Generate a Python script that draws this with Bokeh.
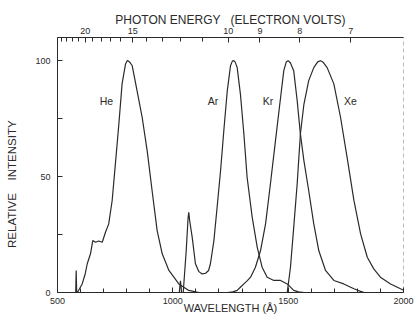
from bokeh.plotting import figure
from bokeh.models import (Range1d, LinearAxis, FixedTicker, CustomJSTickFormatter, Label)
from bokeh.embed import file_html
from bokeh.resources import INLINE

# ---- data ----
he_wl = [575, 579, 581, 583, 586, 595, 607, 620, 629, 643, 653, 665, 679, 694, 708, 722,
         737, 751, 766, 780, 795, 802, 808, 816, 824, 845, 867, 889, 910, 932, 954, 983,
         1026, 1069, 1113, 1130]
he_int = [0, 0, 9.5, 0.5, 0, 1.5, 3.7, 8, 12.4, 16.7, 22.4, 21.7, 22.2, 21.7, 26, 29.6,
          39.7, 55.5, 72.7, 90, 98.6, 100, 99.8, 99, 97.8, 87, 75.6, 61, 44, 26.7, 16.7, 9.5,
          3.7, 0.9, 0, 0]

ar_wl = [1015, 1028, 1033, 1038, 1045, 1058, 1066, 1069, 1073, 1084, 1098, 1113, 1127, 1142,
         1155, 1163, 1178, 1192, 1207, 1221, 1236, 1250, 1258, 1264, 1270, 1279, 1293, 1308,
         1322, 1344, 1366, 1387, 1409, 1438, 1467, 1496, 1524, 1545, 1570]
ar_int = [0, 0, 5, 0, 0, 18, 32, 34.6, 31, 23.8, 12.4, 9, 8, 8.3, 9.5, 12.4, 22.4, 36.8, 52.6,
          69.8, 87, 97.8, 99.8, 100, 99.5, 97, 85.6, 68.4, 49.7, 32.5, 19.5, 10.9, 6.6, 5.2,
          5.2, 3.7, 0.9, 0.3, 0]

kr_wl = [1236, 1260, 1279, 1295, 1308, 1322, 1337, 1358, 1380, 1402, 1423, 1445, 1467, 1481,
         1492, 1500, 1510, 1524, 1539, 1553, 1568, 1589, 1611, 1633, 1662, 1698, 1741, 1785,
         1814, 1830]
kr_int = [0, 0.3, 0.9, 2.5, 3.7, 5, 6.6, 10.9, 18, 29.6, 46.8, 65.5, 84, 95.7, 99.5, 100, 99,
          95.7, 82.8, 68.4, 57, 44, 29.6, 18, 9.5, 5.2, 3.7, 1.6, 0.5, 0]

xe_wl = [1490, 1496, 1510, 1524, 1539, 1553, 1568, 1589, 1611, 1628, 1640, 1652, 1669, 1698,
         1727, 1756, 1785, 1814, 1843, 1871, 1900, 1944, 1987, 2000]
xe_int = [0, 0, 10.9, 28, 46.8, 68.4, 81, 91.4, 97, 99.5, 100, 99.3, 97, 90, 75.6, 58, 39.7,
          25.3, 15.2, 10.2, 6.6, 3.7, 1.6, 1]

gas_names = ["He", "Ar", "Kr", "Xe"]
gas_label_wl = [712, 1174, 1413, 1770]
gas_label_int = [82.8, 82.8, 82.8, 82.8]

wl_major = [500, 1000, 1500, 2000]
wl_minor = list(range(500, 2001, 100))
int_ticks = [0, 25, 50, 75, 100]
ev_major = [20, 15, 10, 9, 8, 7]
ev_minor = [24, 23, 22, 21, 20, 19, 18, 17, 16, 15, 14, 13, 12, 11, 10, 9, 8, 7]
HC = 12398.4  # eV * Angstrom

FONT = "Liberation Sans"
INK = "#2a2a2a"
NB = "\u00a0"

p = figure(width=414, height=316, output_backend="svg", toolbar_location=None,
           x_range=Range1d(500, 2000), y_range=Range1d(0, 110),
           min_border_left=57, min_border_right=11, min_border_top=37, min_border_bottom=24,
           x_axis_location="below")
p.background_fill_color = "white"
p.border_fill_color = "white"
p.outline_line_color = "#bbbbbb"
p.outline_line_dash = "4 3"
p.xgrid.visible = False
p.ygrid.visible = False

for xs, ys in [(he_wl, he_int), (ar_wl, ar_int), (kr_wl, kr_int), (xe_wl, xe_int)]:
    p.line(xs, ys, line_color=INK, line_width=1.2)

for name, lx, ly in zip(gas_names, gas_label_wl, gas_label_int):
    p.add_layout(Label(x=lx, y=ly, text=name, text_font=FONT, text_font_size="10.5px",
                       text_color=INK, text_align="center", text_baseline="middle"))

def style_axis(ax, fs="9px"):
    ax.axis_line_color = INK
    ax.major_tick_line_color = INK
    ax.minor_tick_line_color = INK
    ax.major_label_text_font = FONT
    ax.major_label_text_font_size = fs
    ax.major_label_text_color = INK
    ax.axis_label_text_font = FONT
    ax.axis_label_text_font_style = "normal"
    ax.axis_label_text_color = INK

# bottom axis
xa = p.xaxis[0]
xa.ticker = FixedTicker(ticks=wl_major, minor_ticks=wl_minor)
style_axis(xa)
xa.major_tick_in = 5
xa.major_tick_out = 0
xa.minor_tick_in = 4
xa.minor_tick_out = 0
xa.major_label_standoff = 5
xa.axis_label = "WAVELENGTH (Å)"
xa.axis_label_text_font_size = "11px"
xa.axis_label_standoff = -5

# left axis
ya = p.yaxis[0]
ya.ticker = FixedTicker(ticks=int_ticks)
ya.major_label_overrides = {25: "", 75: ""}
style_axis(ya)
ya.major_tick_in = 5
ya.major_tick_out = 0
ya.minor_tick_in = 0
ya.minor_tick_out = 0
ya.major_label_standoff = 7
ya.axis_label = "RELATIVE" + NB * 4 + "INTENSITY" + NB * 12
ya.axis_label_text_font_size = "11.5px"
ya.axis_label_standoff = 14

# top axis (photon energy)
top = LinearAxis(ticker=FixedTicker(ticks=[HC / e for e in ev_major],
                                    minor_ticks=[HC / e for e in ev_minor]),
                 formatter=CustomJSTickFormatter(code="return (12398.4 / tick).toFixed(0);"))
style_axis(top)
top.major_tick_in = 5
top.major_tick_out = 0
top.minor_tick_in = 4
top.minor_tick_out = 0
top.major_label_standoff = 4
top.axis_label = "PHOTON ENERGY" + NB * 3 + "(ELECTRON VOLTS)"
top.axis_label_text_font_size = "12px"
top.axis_label_standoff = -2
p.add_layout(top, "above")

open("out.html", "w").write(file_html(p, INLINE))
